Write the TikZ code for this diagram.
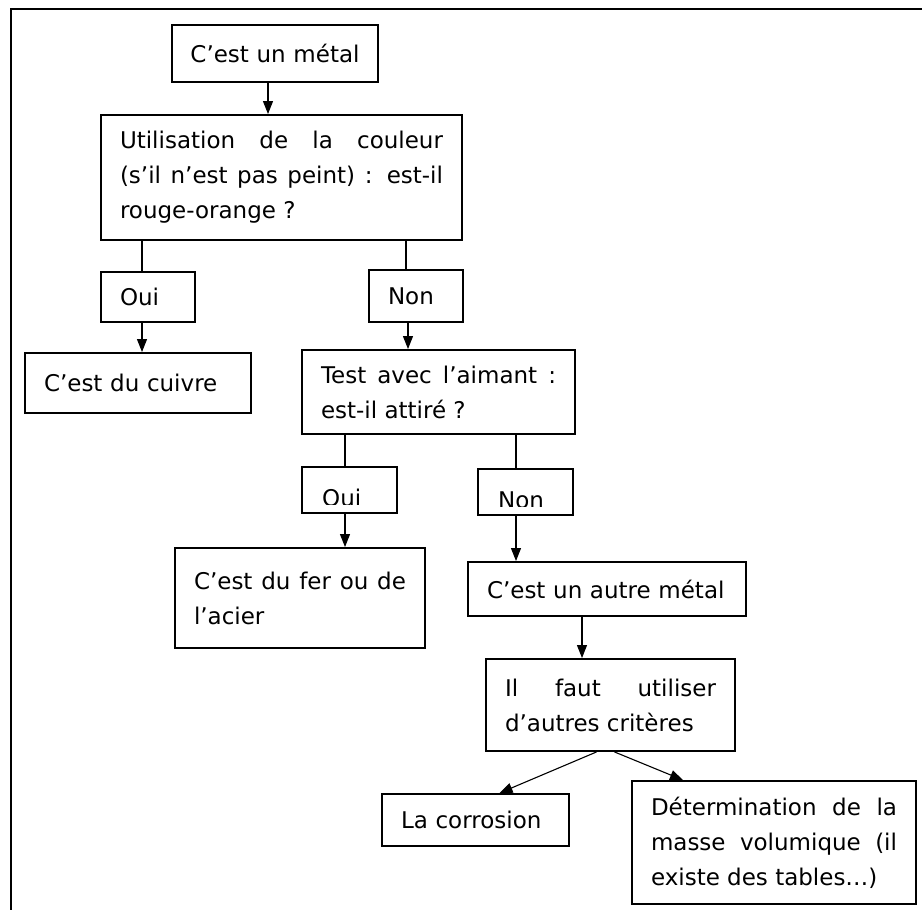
\documentclass[tikz,border=0pt]{standalone}
\usepackage{fontspec}
\setmainfont{DejaVu Sans}
\usepackage{tikz}
\usetikzlibrary{positioning,arrows.meta,calc}

\tikzset{
  box/.style={draw, line width=1.9pt, inner xsep=19pt, inner ysep=0pt, align=left,
    execute at begin node={\hyphenpenalty=10000 \tolerance=9999}},
  jbox/.style={box, align=justify},
  arr/.style={line width=1.1pt, -{Triangle[length=13pt,width=10pt]}},
  lnk/.style={line width=1.1pt}
}

\begin{document}
\begin{tikzpicture}[x=1pt,y=-1pt,font=\fontsize{23}{35}\selectfont]
  \useasboundingbox (0,0) rectangle (922,910);
  \draw[line width=1.8pt] (10.7,910) -- (10.7,9) -- (922,9);

  \node[box, text width=180pt, inner xsep=13pt, align=center, minimum height=57pt] (metal) at (275,53.5) {C’est un métal};
  \node[jbox, text width=323pt, minimum height=125pt] (couleur) at (281.5,177.5)
    {Utilisation de la couleur\linebreak (s’il n’est pas peint) : est-il\linebreak rouge-orange ?};
  \node[box, text width=56pt, minimum height=50pt] (oui) at (148,297) {Oui};
  \node[box, text width=56pt, minimum height=52pt] (non) at (416,296) {Non};
  \node[box, text width=188pt, minimum height=60pt] (cuivre) at (138,383) {C’est du cuivre};
  \node[jbox, text width=235pt, minimum height=84pt] (aimant) at (438.5,392)
    {Test avec l’aimant :\linebreak est-il attiré ?};

  % second answers, text cut at the bottom
  \node[box, text width=57pt, minimum height=46pt] (oui2) at (349.5,490) {};
  \node[box, text width=57pt, minimum height=46pt] (non2) at (525.5,492) {};
  \begin{scope}
    \clip (oui2.north west) rectangle ([yshift=9pt]oui2.south east);
    \node[anchor=base west, inner sep=0pt] (oui2txt) at (322,506) {Oui};
  \end{scope}
  \begin{scope}
    \clip (non2.north west) rectangle ([yshift=9pt]non2.south east);
    \node[anchor=base west, inner sep=0pt] (non2txt) at (498,508) {Non};
  \end{scope}

  \node[jbox, text width=212pt, minimum height=100pt] (fer) at (300,598)
    {C’est du fer ou de\linebreak l’acier};
  \node[box, text width=240pt, minimum height=54pt] (autre) at (607,589) {C’est un autre métal};
  \node[jbox, text width=211pt, minimum height=92pt] (criteres) at (610.5,705)
    {Il faut utiliser\linebreak d’autres critères};
  \node[box, text width=149pt, minimum height=52pt] (corrosion) at (475.5,820) {La corrosion};
  \node[jbox, text width=246pt, minimum height=123pt] (masse) at (774,842.5)
    {Détermination de la\linebreak masse volumique (il\linebreak existe des tables…)};

  \draw[arr] ([xshift=-7pt]metal.south) -- ([xshift=-7pt]metal.south |- couleur.north);
  \draw[lnk] ([xshift=-6pt]oui.north) -- ([xshift=-6pt]oui.north |- couleur.south);
  \draw[arr] ([xshift=-6pt]oui.south) -- ([xshift=-6pt]oui.south |- cuivre.north);
  \draw[lnk] ([xshift=-10pt]non.north) -- ([xshift=-10pt]non.north |- couleur.south);
  \draw[arr] ([xshift=-8pt]non.south) -- ([xshift=-8pt]non.south |- aimant.north);
  \draw[lnk] ([xshift=-4.5pt]oui2.north) -- ([xshift=-4.5pt]oui2.north |- aimant.south);
  \draw[arr] ([xshift=-4.5pt]oui2.south) -- ([xshift=-4.5pt]oui2.south |- fer.north);
  \draw[lnk] ([xshift=-9.5pt]non2.north) -- ([xshift=-9.5pt]non2.north |- aimant.south);
  \draw[arr] ([xshift=-9.5pt]non2.south) -- ([xshift=-9.5pt]non2.south |- autre.north);
  \draw[arr] ([xshift=-25pt]autre.south) -- ([xshift=-25pt]autre.south |- criteres.north);
  \draw[arr] ([xshift=-14pt]criteres.south) -- ([xshift=24pt]corrosion.north);
  \draw[arr] ([xshift=4pt]criteres.south) -- ([xshift=-91pt]masse.north);
\end{tikzpicture}
\end{document}
